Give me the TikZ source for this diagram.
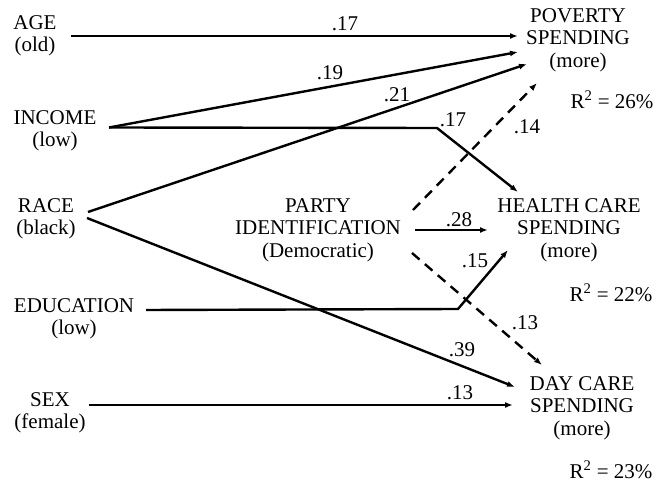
\documentclass[tikz,border=0pt]{standalone}
\usepackage{fontspec}
\setmainfont{Liberation Serif}
\usetikzlibrary{arrows.meta}
\begin{document}
\begin{tikzpicture}[x=1pt,y=-1pt,
 lbl/.style={font=\fontsize{21}{22.5}\selectfont, align=center, inner sep=0pt},
 coef/.style={font=\fontsize{21}{22}\selectfont, inner sep=0pt},
 arr/.style={line width=2.4pt, -{Latex[length=8pt,width=6pt]}},
 darr/.style={arr, dash pattern=on 10pt off 7pt},
 seg/.style={line width=2.4pt}]
\useasboundingbox (0,0) rectangle (657,494);
% variables
\node[lbl] (age) at (35,36) {AGE\\(old)};
\node[lbl] (inc) at (55,131) {INCOME\\(low)};
\node[lbl] (race) at (46,219) {RACE\\(black)};
\node[lbl] (edu) at (74,319) {EDUCATION\\(low)};
\node[lbl] (sex) at (50,413) {SEX\\(female)};
\node[lbl] (party) at (318,230) {PARTY\\IDENTIFICATION\\(Democratic)};
\node[lbl] (pov) at (578,40) {POVERTY\\SPENDING\\(more)};
\node[lbl] (hc) at (569,230) {HEALTH CARE\\SPENDING\\(more)};
\node[lbl] (dc) at (582,408) {DAY CARE\\SPENDING\\(more)};
\node[lbl] (r1) at (612,100) {R\textsuperscript{2} = 26\%};
\node[lbl] (r2) at (611,293) {R\textsuperscript{2} = 22\%};
\node[lbl] (r3) at (611,470) {R\textsuperscript{2} = 23\%};
% attachment points
\coordinate (ageO) at (71,36);
\coordinate (incO) at (109,127.5);
\coordinate (raceU) at (88,212);
\coordinate (raceD) at (87,218);
\coordinate (eduO) at (146,310);
\coordinate (sexO) at (89,405);
\coordinate (pU) at (413,210);
\coordinate (pM) at (415,230);
\coordinate (pD) at (412,253);
\coordinate (pov1) at (518,36);
\coordinate (pov2) at (518,52);
\coordinate (pov3) at (527,64);
\coordinate (pov4) at (537,83);
\coordinate (hc1) at (518,192);
\coordinate (hc2) at (488,230);
\coordinate (hc3) at (508,250);
\coordinate (dc1) at (542,365);
\coordinate (dc2) at (515,387);
\coordinate (dc3) at (513,405);
\coordinate (b1) at (437,128);
\coordinate (b2) at (458,309);
% paths
\draw[arr] (ageO) -- (pov1);
\draw[arr] (incO) -- (pov2);
\draw[arr] (incO) -- (b1) -- (hc1);
\draw[arr] (raceU) -- (pov3);
\draw[arr] (raceD) -- (dc2);
\draw[darr] (pU) -- (pov4);
\draw[arr] (pM) -- (hc2);
\draw[darr] (pD) -- (dc1);
\draw[arr] (eduO) -- (b2) -- (hc3);
\draw[arr] (sexO) -- (dc3);
% coefficients
\node[coef] (c1) at (345,24) {.17};
\node[coef] (c2) at (330,73) {.19};
\node[coef] (c3) at (397,95) {.21};
\node[coef] (c4) at (453,120) {.17};
\node[coef] (c5) at (527,127) {.14};
\node[coef] (c6) at (459,220) {.28};
\node[coef] (c7) at (475,261) {.15};
\node[coef] (c8) at (525,323) {.13};
\node[coef] (c9) at (462,350) {.39};
\node[coef] (c10) at (460,393) {.13};
\end{tikzpicture}
\end{document}
